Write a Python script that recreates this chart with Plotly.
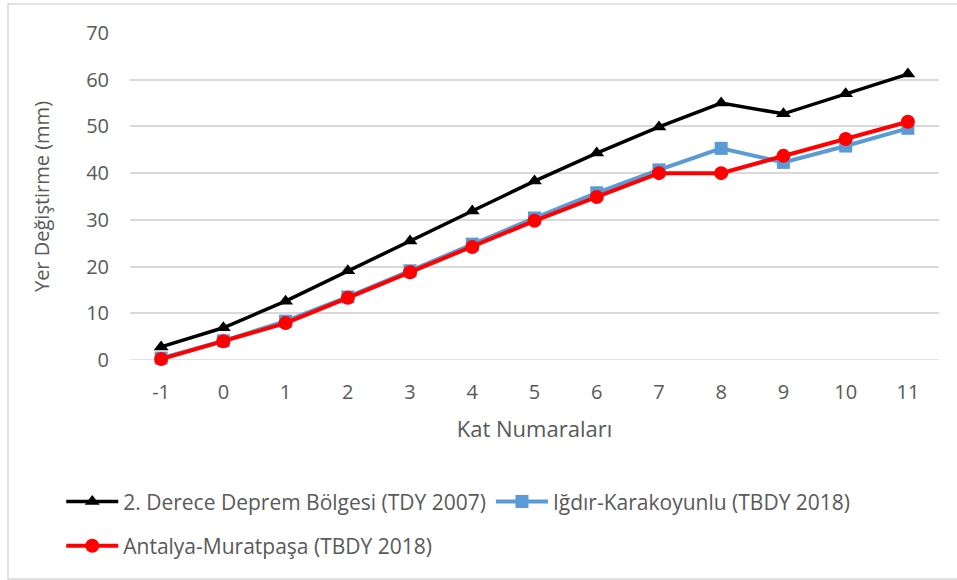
import plotly.graph_objects as go

# Floor numbers and lateral displacements (mm)
floors = [-1, 0, 1, 2, 3, 4, 5, 6, 7, 8, 9, 10, 11]
floor_labels = [str(f) for f in floors]
tdy2007 = [2.8, 6.9, 12.6, 19.1, 25.5, 31.9, 38.3, 44.3, 49.9, 55.0, 52.7, 57.0, 61.2]
igdir = [0.4, 4.1, 8.3, 13.5, 19.1, 24.8, 30.4, 35.8, 40.7, 45.3, 42.3, 45.8, 49.6]
antalya = [0.2, 4.0, 7.9, 13.3, 18.8, 24.2, 29.8, 34.9, 40.0, 40.0, 43.7, 47.3, 51.0]
y_ticks = [0, 10, 20, 30, 40, 50, 60, 70]

FONT = "Open Sans"
TXT = "#595959"
GRID = "#d9d9d9"

fig = go.Figure()
fig.add_trace(go.Scatter(
    x=floors, y=tdy2007, name="2. Derece Deprem Bölgesi (TDY 2007)",
    mode="lines+markers", line=dict(color="#000000", width=3.5),
    marker=dict(symbol="triangle-up", size=13, color="#000000"),
    cliponaxis=False, legend="legend"))
fig.add_trace(go.Scatter(
    x=floors, y=igdir, name="Iğdır-Karakoyunlu (TBDY 2018)",
    mode="lines+markers", line=dict(color="#5b9bd5", width=4),
    marker=dict(symbol="square", size=13, color="#5b9bd5"),
    cliponaxis=False, legend="legend"))
fig.add_trace(go.Scatter(
    x=floors, y=antalya, name="Antalya-Muratpaşa (TBDY 2018)",
    mode="lines+markers", line=dict(color="#ff0000", width=4),
    marker=dict(symbol="circle", size=14, color="#ff0000"),
    cliponaxis=False, legend="legend2"))

fig.update_layout(
    width=957, height=580,
    margin=dict(l=130, r=18, t=33, b=220),
    paper_bgcolor="white", plot_bgcolor="white",
    font=dict(family=FONT, color=TXT, size=20),
    xaxis=dict(
        range=[-1.5, 11.5], tickmode="array", tickvals=floors, ticktext=floor_labels,
        showgrid=False, zeroline=False, showline=False, ticks="",
        tickfont=dict(size=20, color=TXT), ticklabelstandoff=18,
        title=dict(text="Kat Numaraları", font=dict(size=22, color=TXT), standoff=17),
    ),
    yaxis=dict(
        range=[0, 70], tickmode="array", tickvals=y_ticks,
        showgrid=True, gridcolor=GRID, gridwidth=1.5, zeroline=False, showline=False,
        ticks="", tickfont=dict(size=20, color=TXT), ticklabelstandoff=20,
        title=dict(text="Yer Değiştirme (mm)", font=dict(size=20, color=TXT), standoff=31),
    ),
    legend=dict(orientation="h", x=-0.085, y=-0.434, xanchor="left", yanchor="middle",
                font=dict(size=21, color=TXT), itemwidth=52, tracegroupgap=0,
                bgcolor="rgba(0,0,0,0)"),
    legend2=dict(orientation="h", x=-0.085, y=-0.569, xanchor="left", yanchor="middle",
                 font=dict(size=21, color=TXT), itemwidth=52,
                 bgcolor="rgba(0,0,0,0)"),
    showlegend=True,
    shapes=[dict(type="line", xref="paper", yref="y", x0=0, x1=1, y0=0, y1=0,
                 line=dict(color=GRID, width=1.5), layer="below"),
            dict(type="rect", xref="paper", yref="paper",
                 x0=-0.1508, x1=1.026, y0=-0.6697, y1=1.0887,
                 line=dict(color="#d9d9d9", width=1.5), fillcolor="rgba(0,0,0,0)")],
)

fig.write_html("out.html")
